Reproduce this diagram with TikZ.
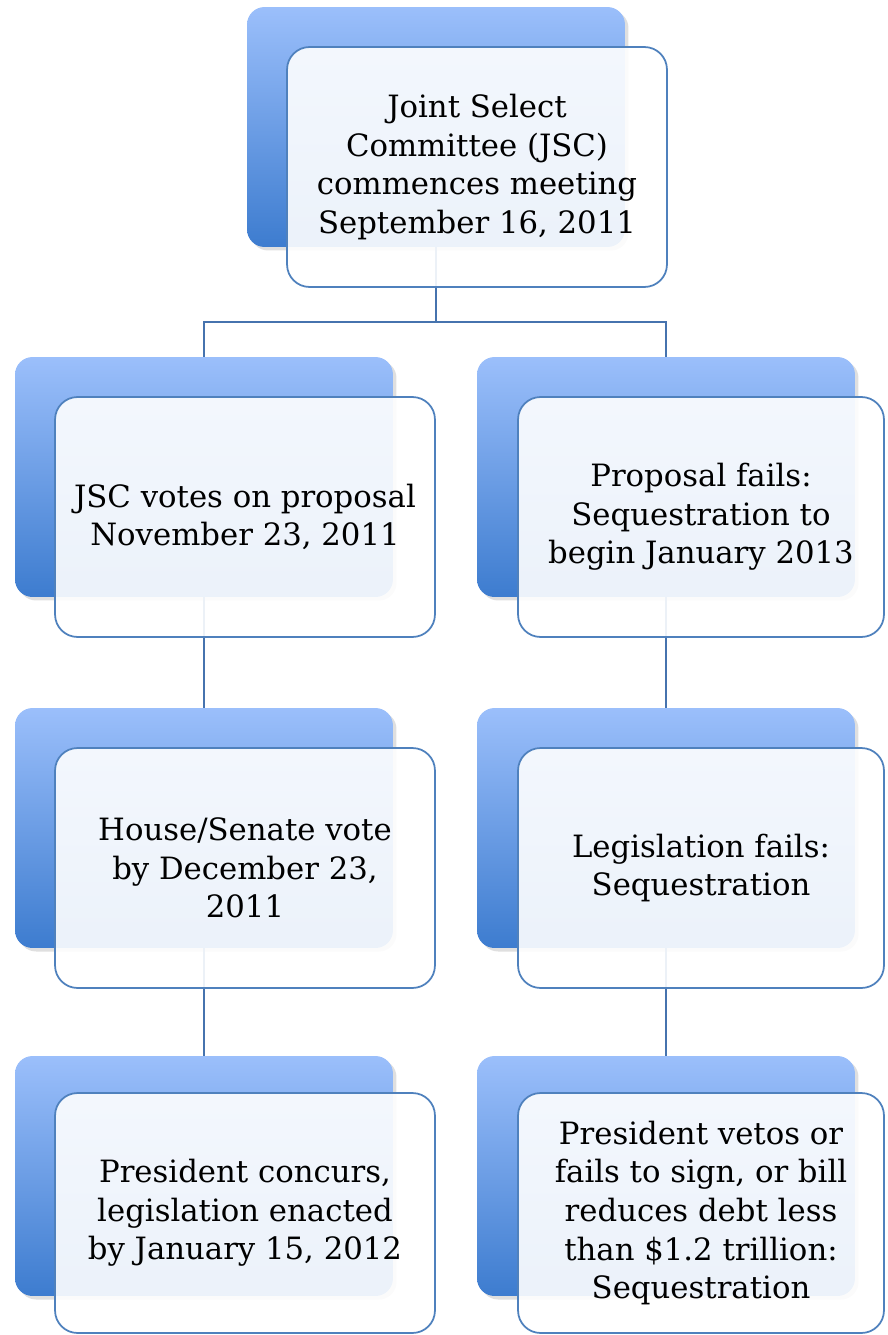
\documentclass[tikz,border=0pt]{standalone}
\usepackage{fontspec}
\setmainfont{DejaVu Serif}
\usetikzlibrary{positioning, shadows}
\definecolor{edgeblue}{HTML}{4F81BD}
\definecolor{lineblue}{HTML}{4673AE}
\definecolor{shadetop}{HTML}{9BBFFB}
\definecolor{shadebot}{HTML}{3D7CCF}

\begin{document}
\begin{tikzpicture}[
  x=0.02cm, y=-0.02cm,
  backbox/.style={rectangle, rounded corners=0.35cm, minimum width=7.56cm,
                  minimum height=4.8cm, top color=shadetop,
                  middle color=shadetop!82!shadebot, bottom color=shadebot,
                  drop shadow={shadow xshift=2pt, shadow yshift=-2pt, opacity=0.25}},
  frontbox/.style={rectangle, draw=edgeblue, line width=1pt, rounded corners=0.45cm,
                   minimum width=7.6cm, minimum height=4.8cm, fill=white,
                   fill opacity=0.9, text opacity=1, align=center,
                   font=\fontsize{17.5}{22}\selectfont},
  edgebox/.style={frontbox, minimum width=7.32cm},
  conn/.style={draw=lineblue, line width=1.3pt}
]
\useasboundingbox (0,0) rectangle (887,1335);

%% --- back (shaded) boxes ---
\node[backbox] (jscB)    at (436,127)  {};
\node[backbox] (votesB)  at (204,477)  {};
\node[backbox] (failsB)  at (666,477)  {};
\node[backbox] (houseB)  at (204,828)  {};
\node[backbox] (legisB)  at (666,828)  {};
\node[backbox] (presB)   at (204,1176) {};
\node[backbox] (vetoB)   at (666,1176) {};

%% --- connectors ---
\coordinate (split) at (436,322);
\draw[conn] (jscB.south) -- (split);
\draw[conn] (split) -| (votesB.north);
\draw[conn] (split) -| (failsB.north);
\draw[conn] (votesB.south) -- (houseB.north);
\draw[conn] (houseB.south) -- (presB.north);
\draw[conn] (failsB.south) -- (legisB.north);
\draw[conn] (legisB.south) -- (vetoB.north);

%% --- front boxes ---
\node[frontbox] (jsc)   at (477,167)  {Joint Select\\Committee (JSC)\\commences meeting\\September 16, 2011};
\node[frontbox] (votes) at (245,517)  {JSC votes on proposal\\November 23, 2011};
\node[edgebox]  (fails) at (701,517)  {Proposal fails:\\Sequestration to\\begin January 2013};
\node[frontbox] (house) at (245,868)  {House/Senate vote\\by December 23,\\2011};
\node[edgebox]  (legis) at (701,868)  {Legislation fails:\\Sequestration};
\node[frontbox] (pres)  at (245,1213) {President concurs,\\legislation enacted\\by January 15, 2012};
\node[edgebox]  (veto)  at (701,1213) {President vetos or\\fails to sign, or bill\\reduces debt less\\than \$1.2 trillion:\\Sequestration};

\end{tikzpicture}
\end{document}
